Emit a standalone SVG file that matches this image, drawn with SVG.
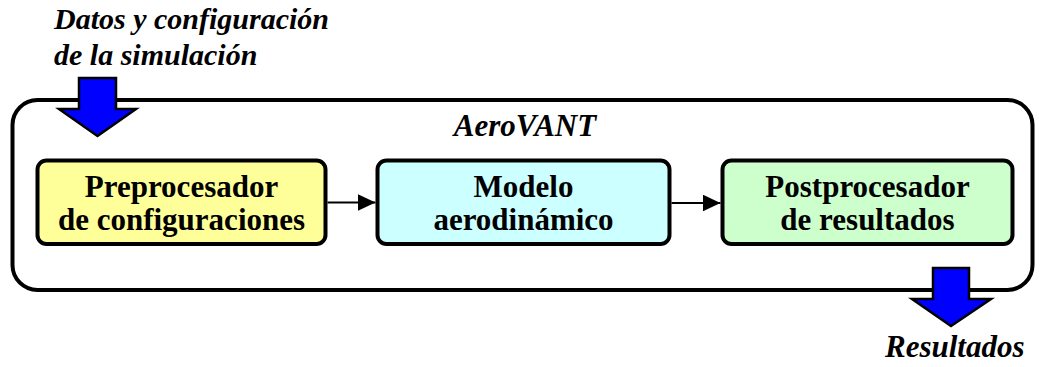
<svg xmlns="http://www.w3.org/2000/svg" width="1040" height="367" viewBox="0 0 1040 367">
<style>
text{font-family:"Liberation Serif","Times New Roman",serif;font-weight:bold;fill:#000}
.bi{font-style:italic;font-size:31px}
.b{font-size:31px;text-anchor:middle}
.box{stroke:#000;stroke-width:4}
.big{fill:#0000FF;stroke:#000;stroke-width:2.5}
</style>
<defs>
<marker id="ah" markerWidth="18" markerHeight="17" refX="18" refY="8.5" orient="auto" markerUnits="userSpaceOnUse">
<path d="M0,0 L18,8.5 L0,17 Z" fill="#000"/>
</marker>
</defs>
<rect x="12.5" y="100" width="1020" height="190" rx="25" ry="25" fill="#fff" stroke="#000" stroke-width="4"/>
<text class="bi" x="525" y="136" text-anchor="middle">AeroVANT</text>
<g id="input">
<text class="bi" x="54" y="29" style="font-size:30px">Datos y configuración</text>
<text class="bi" x="54" y="65" style="font-size:30px">de la simulación</text>
<path class="big" d="M79,78 L116,78 L116,109 L136,109 L97.5,136 L59,109 L79,109 Z"/>
</g>
<g id="output">
<path class="big" d="M933,268 L969,268 L969,299 L991,299 L951,326 L912,299 L933,299 Z"/>
<text class="bi" x="885" y="357">Resultados</text>
</g>
<g id="n1">
<rect class="box" x="37.5" y="160.5" width="288" height="83.5" rx="9" fill="#FFFF99"/>
<text class="b" x="181.5" y="197">Preprocesador</text>
<text class="b" x="181.5" y="230">de configuraciones</text>
</g>
<g id="n2">
<rect class="box" x="377.5" y="160.5" width="292" height="83.5" rx="9" fill="#CCFFFF"/>
<text class="b" x="523.5" y="197">Modelo</text>
<text class="b" x="523.5" y="230">aerodinámico</text>
</g>
<g id="n3">
<rect class="box" x="722.5" y="160.5" width="290" height="83.5" rx="9" fill="#CCFFCC"/>
<text class="b" x="867.5" y="197">Postprocesador</text>
<text class="b" x="867.5" y="230">de resultados</text>
</g>
<g id="connectors" stroke="#000" stroke-width="2" fill="none">
<line x1="327.5" y1="202.5" x2="375.5" y2="202.5" marker-end="url(#ah)"/>
<line x1="671.5" y1="203" x2="720.5" y2="203" marker-end="url(#ah)"/>
</g>
</svg>
